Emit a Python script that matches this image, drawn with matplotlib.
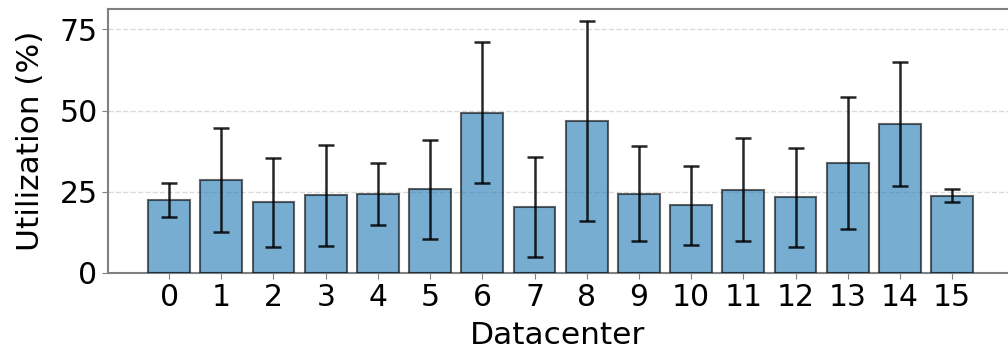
import numpy as np
import matplotlib
matplotlib.use('Agg')
import matplotlib.pyplot as plt

# mean utilization and std per datacenter
datacenters = list(range(16))
util_mean = [22.4, 28.6, 21.8, 23.9, 24.3, 25.8, 49.4, 20.2,
             46.7, 24.4, 20.8, 25.7, 23.3, 34.0, 45.9, 23.8]
util_std = [5.3, 15.9, 13.7, 15.6, 9.5, 15.2, 21.6, 15.4,
            30.8, 14.6, 12.1, 15.9, 15.2, 20.3, 19.0, 2.0]
y_ticks = [0, 25, 50, 75]

fig = plt.figure(figsize=(10.08, 3.54), dpi=100)
ax = fig.add_axes([108/1008, 81/354, 900/1008, 264/354])

ax.bar(datacenters, util_mean, yerr=util_std, width=0.8,
       color='#1f77b4', alpha=0.6, edgecolor='black', linewidth=1.5,
       capsize=5.5, error_kw=dict(ecolor='black', elinewidth=1.8, capthick=1.8, alpha=0.85),
       zorder=3)

ax.set_xlim(-1.17, 16.07)
ax.set_ylim(0, 81.3)
ax.set_xticks(datacenters)
ax.set_yticks(y_ticks)
ax.tick_params(axis='both', labelsize=21.5, color='gray', length=4)
ax.set_xlabel('Datacenter', fontsize=22.5, labelpad=6)
ax.set_ylabel('Utilization (%)', fontsize=22.5, labelpad=10)
ax.yaxis.grid(True, linestyle='--', color='lightgray', alpha=0.8, linewidth=1)
ax.set_axisbelow(True)
for side in ['left', 'bottom', 'top']:
    ax.spines[side].set_color('gray')
    ax.spines[side].set_linewidth(1.5)
ax.spines['right'].set_visible(False)

fig.savefig('out.png', dpi=100)
